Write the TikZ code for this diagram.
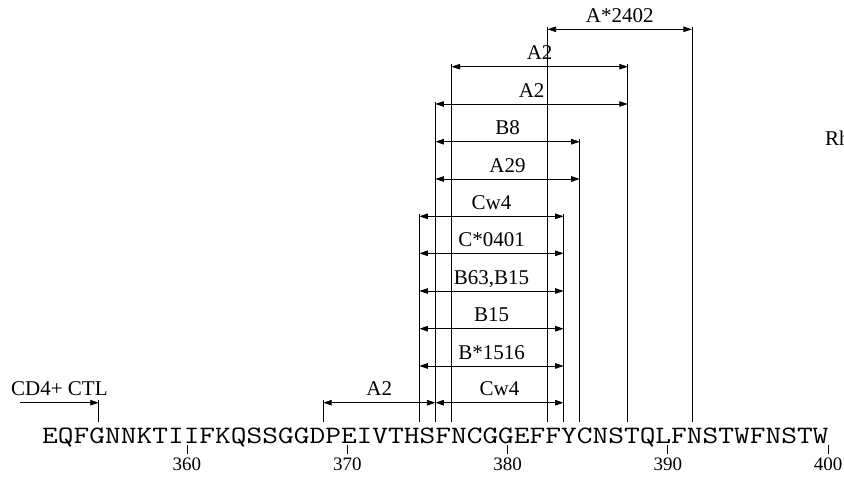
\documentclass[tikz,border=0pt]{standalone}
\usepackage{fontspec}
\usepackage{graphicx}
\setmainfont{Liberation Serif}
\usetikzlibrary{arrows.meta,calc}
\begin{document}
\begin{tikzpicture}[x=1pt,y=-1pt,
  ln/.style={line width=0.8pt},
  dim/.style={ln,{Triangle[length=8.5pt,width=5.5pt]}-{Triangle[length=8.5pt,width=5.5pt]}},
  lab/.style={anchor=base,yshift=7pt,inner sep=0pt,font=\fontsize{21}{24}\selectfont},
  num/.style={anchor=base,inner sep=0pt,font=\fontsize{19}{22}\selectfont},
  seq/.style={anchor=base,inner sep=0pt,font=\fontsize{25}{28}\selectfont\ttfamily}
]
\clip (0,0) rectangle (844,477);
\fill[white] (0,0) rectangle (844,477);

% vertical guide lines
\foreach \x/\t/\n in {98.8/400.2/1, 323.2/400.2/2, 419.4/213.8/3, 435.4/101.5/4,
                       451.5/64.2/5, 547.6/26.8/6, 563.6/213.8/7, 579.7/139.2/8,
                       627.8/64.2/9, 691.9/26.8/10}{
  \coordinate (vt\n) at (\x,\t);
  \coordinate (vb\n) at (\x,421.7);
  \draw[ln] (vt\n) -- (vb\n);
}

% dimension arrows with labels
\foreach \y/\xl/\xr/\t/\n in {29.3/547.6/691.9/A*2402/1,
                              66.7/451.5/627.8/A2/2,
                              104/435.4/627.8/A2/3,
                              141.7/435.4/579.7/B8/4,
                              179/435.4/579.7/A29/5,
                              216.3/419.4/563.6/Cw4/6,
                              253.3/419.4/563.6/C*0401/7,
                              291/419.4/563.6/{B63,B15}/8,
                              328.7/419.4/563.6/B15/9,
                              366/419.4/563.6/B*1516/10,
                              402.7/323.2/435.4/A2/11,
                              402.7/435.4/563.6/Cw4/12}{
  \coordinate (l\n) at (\xl,\y);
  \coordinate (r\n) at (\xr,\y);
  \draw[dim] (l\n) -- node[lab] (lab\n) {\t} (r\n);
}

% CD4+ CTL arrow
\coordinate (c1) at (20,402.7);
\coordinate (c2) at (98.8,402.7);
\draw[ln,-{Triangle[length=8.5pt,width=5.5pt]}] (c1) -- node[lab] (cd4) {CD4+ CTL} (c2);

% sequence
\node[seq] (seq) at (435.35,443.5) {\scalebox{1.2213}[1]{EQFGNNKTIIFKQSSGGDPEIVTHSFNCGGEFFYCNSTQLFNSTWFNSTW}};

% ticks and numbers
\foreach \r in {360,370,380,390,400}{
  \pgfmathsetmacro\xx{42.7+(\r-351)*16.03}
  \coordinate (ta\r) at (\xx,445);
  \coordinate (tb\r) at (\xx,454.3);
  \draw[ln] (ta\r) -- (tb\r);
  \node[num] (n\r) at (\xx,470) {\r};
}

% label cut off by the right edge, as in the reference
\node[anchor=base west,inner sep=0pt,font=\fontsize{21}{24}\selectfont] (rh) at (825,145) {Rh};
\end{tikzpicture}
\end{document}
